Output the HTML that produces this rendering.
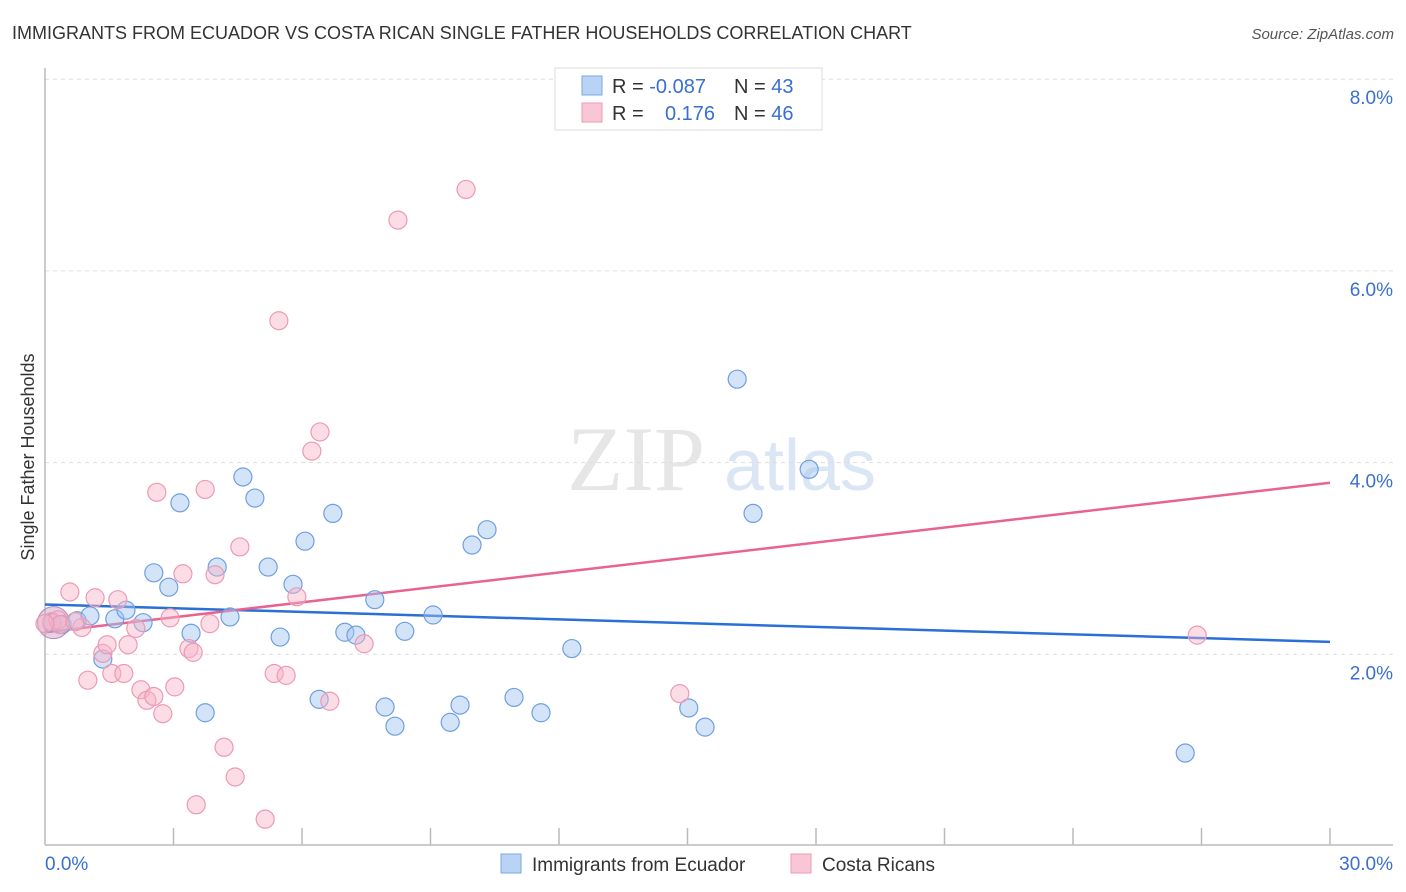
<!DOCTYPE html>
<html><head><meta charset="utf-8"><style>
body{margin:0;background:#fff;font-family:"Liberation Sans",sans-serif;}
svg{display:block}
</style></head><body>
<svg id="chart" width="1406" height="892">
<text x="12" y="39" font-size="18" fill="#333">IMMIGRANTS FROM ECUADOR VS COSTA RICAN SINGLE FATHER HOUSEHOLDS CORRELATION CHART</text>
<text x="1394" y="39" font-size="15" fill="#555" font-style="italic" text-anchor="end">Source: ZipAtlas.com</text>
<text transform="translate(34,457) rotate(-90)" font-size="18" fill="#333" text-anchor="middle">Single Father Households</text>
<g><text x="636" y="490" font-size="92" fill="#e6e6e6" font-family="Liberation Serif,serif" text-anchor="middle">ZIP</text><text x="800" y="490" font-size="72" fill="#dbe6f5" text-anchor="middle">atlas</text></g>
<g id="grid"></g><g id="axes"></g><g id="lines"></g><g id="pts"></g>
<g>
<rect x="555" y="68" width="267" height="62" fill="#fff" stroke="#ddd"/>
<rect x="582" y="76" width="20" height="19" fill="#b9d3f5" stroke="#7aa7e6"/>
<rect x="582" y="103" width="20" height="19" fill="#f9c6d5" stroke="#ee9ab5"/>
<text x="612" y="93" font-size="20" fill="#333">R = <tspan fill="#3a6fd0">-0.087</tspan></text>
<text x="734" y="93" font-size="20" fill="#333">N = <tspan fill="#3a6fd0">43</tspan></text>
<text x="612" y="120" font-size="20" fill="#333">R = </text><text x="715" y="120" font-size="20" fill="#3a6fd0" text-anchor="end">0.176</text>
<text x="734" y="120" font-size="20" fill="#333">N = <tspan fill="#3a6fd0">46</tspan></text>
</g>
<g>
<rect x="501" y="854" width="20" height="19" fill="#b9d3f5" stroke="#7aa7e6"/>
<text x="532" y="871" font-size="19" fill="#333">Immigrants from Ecuador</text>
<rect x="791" y="854" width="20" height="19" fill="#f9c6d5" stroke="#ee9ab5"/>
<text x="822" y="871" font-size="19" fill="#333">Costa Ricans</text>
</g>
<text x="45" y="870" font-size="19" fill="#3a6fd0">0.0%</text>
<text x="1393" y="870" font-size="19" fill="#3a6fd0" text-anchor="end">30.0%</text>
</svg>
<script>
const yTicks=[2,4,6,8];
const yTickLabels=["2.0%","4.0%","6.0%","8.0%"];
const blueX=[0.16,0.40,0.75,1.05,1.35,1.63,1.89,2.29,2.54,2.89,3.15,3.41,3.74,4.02,4.32,4.62,4.90,5.21,5.49,5.79,6.07,6.40,6.72,7.00,7.26,7.70,7.94,8.17,8.40,9.06,9.46,9.69,9.97,10.32,10.95,11.58,12.30,15.03,15.41,16.16,16.53,17.84,26.62];
const blueY=[2.33,2.31,2.35,2.40,1.95,2.37,2.46,2.33,2.85,2.70,3.58,2.22,1.39,2.91,2.39,3.85,3.63,2.91,2.18,2.73,3.18,1.53,3.47,2.23,2.20,2.57,1.45,1.25,2.24,2.41,1.29,1.47,3.14,3.30,1.55,1.39,2.06,1.44,1.24,4.87,3.47,3.93,0.97];
const pinkX=[0.16,0.30,0.58,0.86,1.00,1.17,1.35,1.45,1.56,1.70,1.84,1.94,2.12,2.24,2.38,2.54,2.61,2.75,2.92,3.03,3.22,3.36,3.46,3.53,3.74,3.85,3.97,4.18,4.44,4.55,5.14,5.35,5.46,5.63,5.88,6.23,6.42,6.65,7.45,8.24,9.83,14.82,26.90,0.35,0.70,0.0];
const pinkY=[2.34,2.36,2.65,2.28,1.73,2.59,2.01,2.10,1.80,2.57,1.80,2.10,2.27,1.63,1.52,1.56,3.69,1.38,2.38,1.66,2.84,2.06,2.02,0.43,3.72,2.32,2.83,1.03,0.72,3.12,0.28,1.80,5.48,1.78,2.60,4.12,4.32,1.51,2.11,6.53,6.85,1.59,2.20,2.31,2.34,2.32];
const blueTrend=[2.52,2.13];
const pinkTrend=[2.23,3.79];
const X0=45,X1=1330,Y0=846,PXPER=95.85;
const sx=v=>X0+v/30*(X1-X0), sy=v=>Y0-v*PXPER;
const NS="http://www.w3.org/2000/svg";
function mk(parent,tag,attrs){const e=document.createElementNS(NS,tag);for(const k in attrs)e.setAttribute(k,attrs[k]);document.getElementById(parent).appendChild(e);return e;}
yTicks.forEach((t,i)=>{
 const l=mk('grid','line',{x1:45,x2:1393,y1:sy(t),y2:sy(t),stroke:'#ddd','stroke-dasharray':'4,4'});
 
 
 const tx=mk('grid','text',{x:1393,y:sy(t)+25,'font-size':19,fill:'#3a6fd0','text-anchor':'end'});
 tx.textContent=yTickLabels[i];
 
 
});
let a=mk('axes','line',{x1:45,x2:45,y1:68,y2:845,stroke:'#bbb','stroke-width':1.5});


a=mk('axes','line',{x1:45,x2:1393,y1:845,y2:845,stroke:'#bbb','stroke-width':1.5});


for(let i=1;i<=10;i++){const t=mk('axes','line',{x1:sx(i*3),x2:sx(i*3),y1:828,y2:845,stroke:'#bbb','stroke-width':1.5});
 
 }
let big=mk('pts','circle',{cx:sx(0.2),cy:sy(2.33),r:16,fill:'rgba(200,150,190,0.45)',stroke:'#b08ac0'});


blueX.forEach((x,i)=>{const c=mk('pts','circle',{cx:sx(x),cy:sy(blueY[i]),r:9,fill:'rgba(160,195,240,0.45)',stroke:'#6f9fe0','stroke-width':1.2});
 
 });
pinkX.forEach((x,i)=>{const c=mk('pts','circle',{cx:sx(x),cy:sy(pinkY[i]),r:9,fill:'rgba(248,180,200,0.45)',stroke:'#eb9ab5','stroke-width':1.2});
 
 });
let bl=mk('lines','line',{x1:sx(0),y1:sy(blueTrend[0]),x2:sx(30),y2:sy(blueTrend[1]),stroke:'#2a6fd6','stroke-width':2.5});


let pl=mk('lines','line',{x1:sx(0),y1:sy(pinkTrend[0]),x2:sx(30),y2:sy(pinkTrend[1]),stroke:'#e8648f','stroke-width':2.5});


</script>
</body></html>
